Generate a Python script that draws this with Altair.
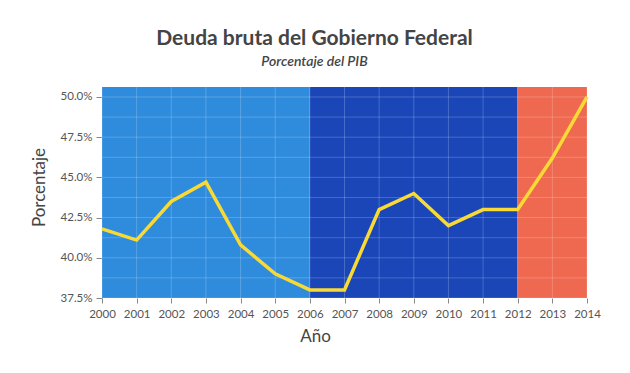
import altair as alt
import pandas as pd

years = list(range(2000, 2015))
debt = [41.8, 41.1, 43.5, 44.7, 40.8, 39.0, 38.0, 38.0, 43.0, 44.0, 42.0, 43.0, 43.0, 46.2, 50.0]

band_start = [2000, 2006, 2012]
band_end = [2006, 2012, 2014]
band_color = ["#2F8BDC", "#1A46B8", "#EE6950"]

y_ticks = [37.5, 40.0, 42.5, 45.0, 47.5, 50.0]
y_minor = [38.75, 41.25, 43.75, 46.25, 48.75]

W, H = 485, 211
YMIN, YMAX = 37.5, 50.62

df = pd.DataFrame({"year": years, "debt": debt})
bands = pd.DataFrame({"start": band_start, "end": band_end, "color": band_color})
hgrid = pd.DataFrame({"v": y_ticks + y_minor})
vgrid = pd.DataFrame({"year": years})

xscale = alt.Scale(domain=[2000, 2014], nice=False, zero=False)
yscale = alt.Scale(domain=[YMIN, YMAX], nice=False, zero=False)

xaxis = alt.Axis(values=years, format="d", title="Año", grid=False,
                 domain=False, tickColor="#888", tickSize=5,
                 labelOverlap=False, labelFlush=False,
                 labelColor="#555", labelFont="Lato", labelFontSize=11.5,
                 labelPadding=5, titleFont="Lato", titleFontSize=17,
                 titleFontWeight="normal", titleColor="#444",
                 titleX=213, titleY=30)
yaxis = alt.Axis(values=y_ticks, labelExpr="format(datum.value, '.1f') + '%'",
                 title="Porcentaje", grid=False, domain=False,
                 tickColor="#888", tickSize=6, labelColor="#555",
                 labelOverlap=False, labelFlush=False,
                 labelFont="Lato", labelFontSize=11.5, labelPadding=4,
                 titleFont="Lato", titleFontSize=17, titleFontWeight="normal",
                 titleColor="#444", titleX=-54, titleY=100)

rects = alt.Chart(bands).mark_rect().encode(
    x=alt.X("start:Q", scale=xscale, axis=xaxis),
    x2="end:Q",
    y=alt.value(0),
    y2=alt.value(H),
    color=alt.Color("color:N", scale=None),
)

hrules = alt.Chart(hgrid).mark_rule(color="white", opacity=0.2, strokeWidth=1).encode(
    y=alt.Y("v:Q", scale=yscale, axis=yaxis),
)

vrules = alt.Chart(vgrid).mark_rule(color="white", opacity=0.2, strokeWidth=1).encode(
    x=alt.X("year:Q", scale=xscale, axis=xaxis),
)

line = alt.Chart(df).mark_line(color="#F9D936", strokeWidth=3.5).encode(
    x=alt.X("year:Q", scale=xscale, axis=xaxis),
    y=alt.Y("debt:Q", scale=yscale, axis=yaxis),
)

chart = alt.layer(rects, hrules, vrules, line).properties(
    width=W,
    height=H,
    title=alt.TitleParams(
        text="Deuda bruta del Gobierno Federal",
        subtitle="Porcentaje del PIB",
        font="Lato", fontSize=21, fontWeight="bold", color="#444",
        subtitleFont="Lato", subtitleFontSize=14, subtitleFontStyle="italic",
        subtitleFontWeight=600, subtitleColor="#444",
        anchor="middle", dx=-30, offset=18, subtitlePadding=6,
    ),
    autosize=alt.AutoSizeParams(type="none"),
    padding={"left": 94, "top": 79, "right": 35, "bottom": 60},
).configure_view(stroke="#ffffff", strokeOpacity=0.4)

chart.save("out.html", embed_options={"renderer": "svg", "actions": False})
